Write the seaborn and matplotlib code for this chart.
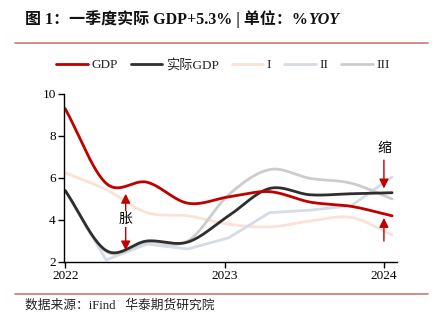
import numpy as np
import pandas as pd
import matplotlib
matplotlib.use("Agg")
import matplotlib.pyplot as plt
import seaborn as sns
from matplotlib.lines import Line2D

# ---- data ----
quarters = [0, 1, 2, 3, 4, 5, 6, 7, 8]
gdp      = [9.3, 5.75, 5.8, 4.8, 5.1, 5.35, 4.85, 4.65, 4.2]
real_gdp = [5.4, 2.55, 3.0, 2.95, 4.2, 5.5, 5.2, 5.25, 5.3]
s1       = [6.25, 5.45, 4.35, 4.2, 3.8, 3.67, 3.95, 4.12, 3.3]
s2       = [5.4, 2.1, 2.85, 2.62, 3.15, 4.35, 4.47, 4.68, 6.05]
s3       = [5.4, 2.5, 2.95, 3.0, 5.2, 6.4, 5.98, 5.75, 5.0]
tick_pos = [0, 3.9, 7.8]
tick_labels = ["2022", "2023", "2024"]

series_names = ["GDP", "实际GDP", "I", "II", "III"]
series_vals = [gdp, real_gdp, s1, s2, s3]
smooth = [True, True, True, False, True]
colors = ["#C00000", "#2E2E2E", "#FBE2D6", "#D5DCE6", "#CCCCCC"]

sns.set_theme(style="white")
plt.rcParams['font.family'] = ['Liberation Serif', 'Noto Sans CJK SC', 'DejaVu Sans']
plt.rcParams['axes.unicode_minus'] = False


def catmull_rom(x, y, n=30):
    x = np.asarray(x, float); y = np.asarray(y, float)
    px = np.concatenate([[2 * x[0] - x[1]], x, [2 * x[-1] - x[-2]]])
    py = np.concatenate([[2 * y[0] - y[1]], y, [2 * y[-1] - y[-2]]])
    xs, ys = [], []
    for i in range(1, len(px) - 2):
        t = np.linspace(0, 1, n, endpoint=False)
        for p, out in ((px, xs), (py, ys)):
            p0, p1, p2, p3 = p[i - 1], p[i], p[i + 1], p[i + 2]
            out.extend(0.5 * ((2 * p1) + (-p0 + p2) * t + (2 * p0 - 5 * p1 + 4 * p2 - p3) * t ** 2
                              + (-p0 + 3 * p1 - 3 * p2 + p3) * t ** 3))
    xs.append(x[-1]); ys.append(y[-1])
    return np.array(xs), np.array(ys)


frames = []
for name, vals, sm in zip(series_names, series_vals, smooth):
    if sm:
        xx, yy = catmull_rom(quarters, vals)
    else:
        xx, yy = np.array(quarters, float), np.array(vals, float)
    frames.append(pd.DataFrame({"x": xx, "y": yy, "series": name}))
df = pd.concat(frames, ignore_index=True)

fig = plt.figure(figsize=(4.39, 3.26), dpi=100)
ax = fig.add_axes([64 / 439, 1 - 262 / 326, (397 - 64) / 439, (262 - 94) / 326])

order = ["I", "II", "III", "实际GDP", "GDP"]
pal = dict(zip(series_names, colors))
for name in order:
    sub = df[df.series == name]
    sns.lineplot(data=sub, x="x", y="y", ax=ax, color=pal[name], lw=2.0,
                 sort=False, estimator=None, legend=False)

ax.set_xlim(-0.03, 8.12)
ax.set_ylim(2, 10)
ax.set_yticks([2, 4, 6, 8, 10])
ax.set_xticks(tick_pos)
ax.set_xticklabels(tick_labels)
ax.set_xlabel("")
ax.set_ylabel("")
for s in ["top", "right"]:
    ax.spines[s].set_visible(False)
for s in ["left", "bottom"]:
    ax.spines[s].set_color("#000000")
    ax.spines[s].set_linewidth(1.0)
ax.tick_params(axis="both", which="both", direction="out", length=4, width=1.0,
               colors="#000000", labelsize=9.5, pad=2, left=True, bottom=True)
ax.grid(False)

# annotations
red = "#C00000"
ax.annotate("", xy=(1.48, 5.25), xytext=(1.48, 2.55),
            arrowprops=dict(arrowstyle="<|-|>", color=red, lw=1.0, mutation_scale=14,
                            shrinkA=0, shrinkB=0))
ax.text(1.48, 4.05, "胀", ha="center", va="center", fontsize=10, color="#000000",
        family=['Noto Sans CJK SC'],
        bbox=dict(boxstyle="square,pad=0.1", fc="white", ec="none"))
ax.annotate("", xy=(7.8, 5.5), xytext=(7.8, 6.85),
            arrowprops=dict(arrowstyle="-|>", color=red, lw=1.0, mutation_scale=14,
                            shrinkA=0, shrinkB=0))
ax.annotate("", xy=(7.8, 4.1), xytext=(7.8, 3.0),
            arrowprops=dict(arrowstyle="-|>", color=red, lw=1.0, mutation_scale=14,
                            shrinkA=0, shrinkB=0))
ax.text(7.8, 7.45, "缩", ha="center", va="center", fontsize=10, color="#000000",
        family=['Noto Sans CJK SC'])

# legend
handles = [Line2D([0], [0], color=c, lw=2.0) for c in colors]
fig.legend(handles, series_names, loc="center", bbox_to_anchor=(0.508, 1 - 65 / 326),
           ncol=5, frameon=False, fontsize=9.5, handlelength=2.4, handletextpad=0.25,
           columnspacing=1.0)

# title
ty = 1 - 19.5 / 326
t1 = fig.text(25 / 439, ty, "图 1：一季度实际 GDP+5.3% | 单位：%", fontsize=11.5,
              fontweight="bold", ha="left", va="center", color="#111111")
fig.canvas.draw()
bb = t1.get_window_extent(renderer=fig.canvas.get_renderer())
fig.text(bb.x1 / fig.bbox.width, ty, "YOY", fontsize=11.5, fontweight="bold",
         style="italic", ha="left", va="center", color="#111111")

# separator lines
line_col = "#CC7777"
fig.add_artist(Line2D([15 / 439, 428 / 439], [1 - 43 / 326, 1 - 43 / 326],
                      color=line_col, lw=1.2, transform=fig.transFigure))
fig.add_artist(Line2D([15 / 439, 428 / 439], [1 - 294 / 326, 1 - 294 / 326],
                      color=line_col, lw=1.2, transform=fig.transFigure))

fig.text(25 / 439, 1 - 305 / 326, "数据来源：iFind   华泰期货研究院", fontsize=9.2,
         ha="left", va="center", color="#222222")

fig.savefig("out.png", dpi=100, facecolor="white")
